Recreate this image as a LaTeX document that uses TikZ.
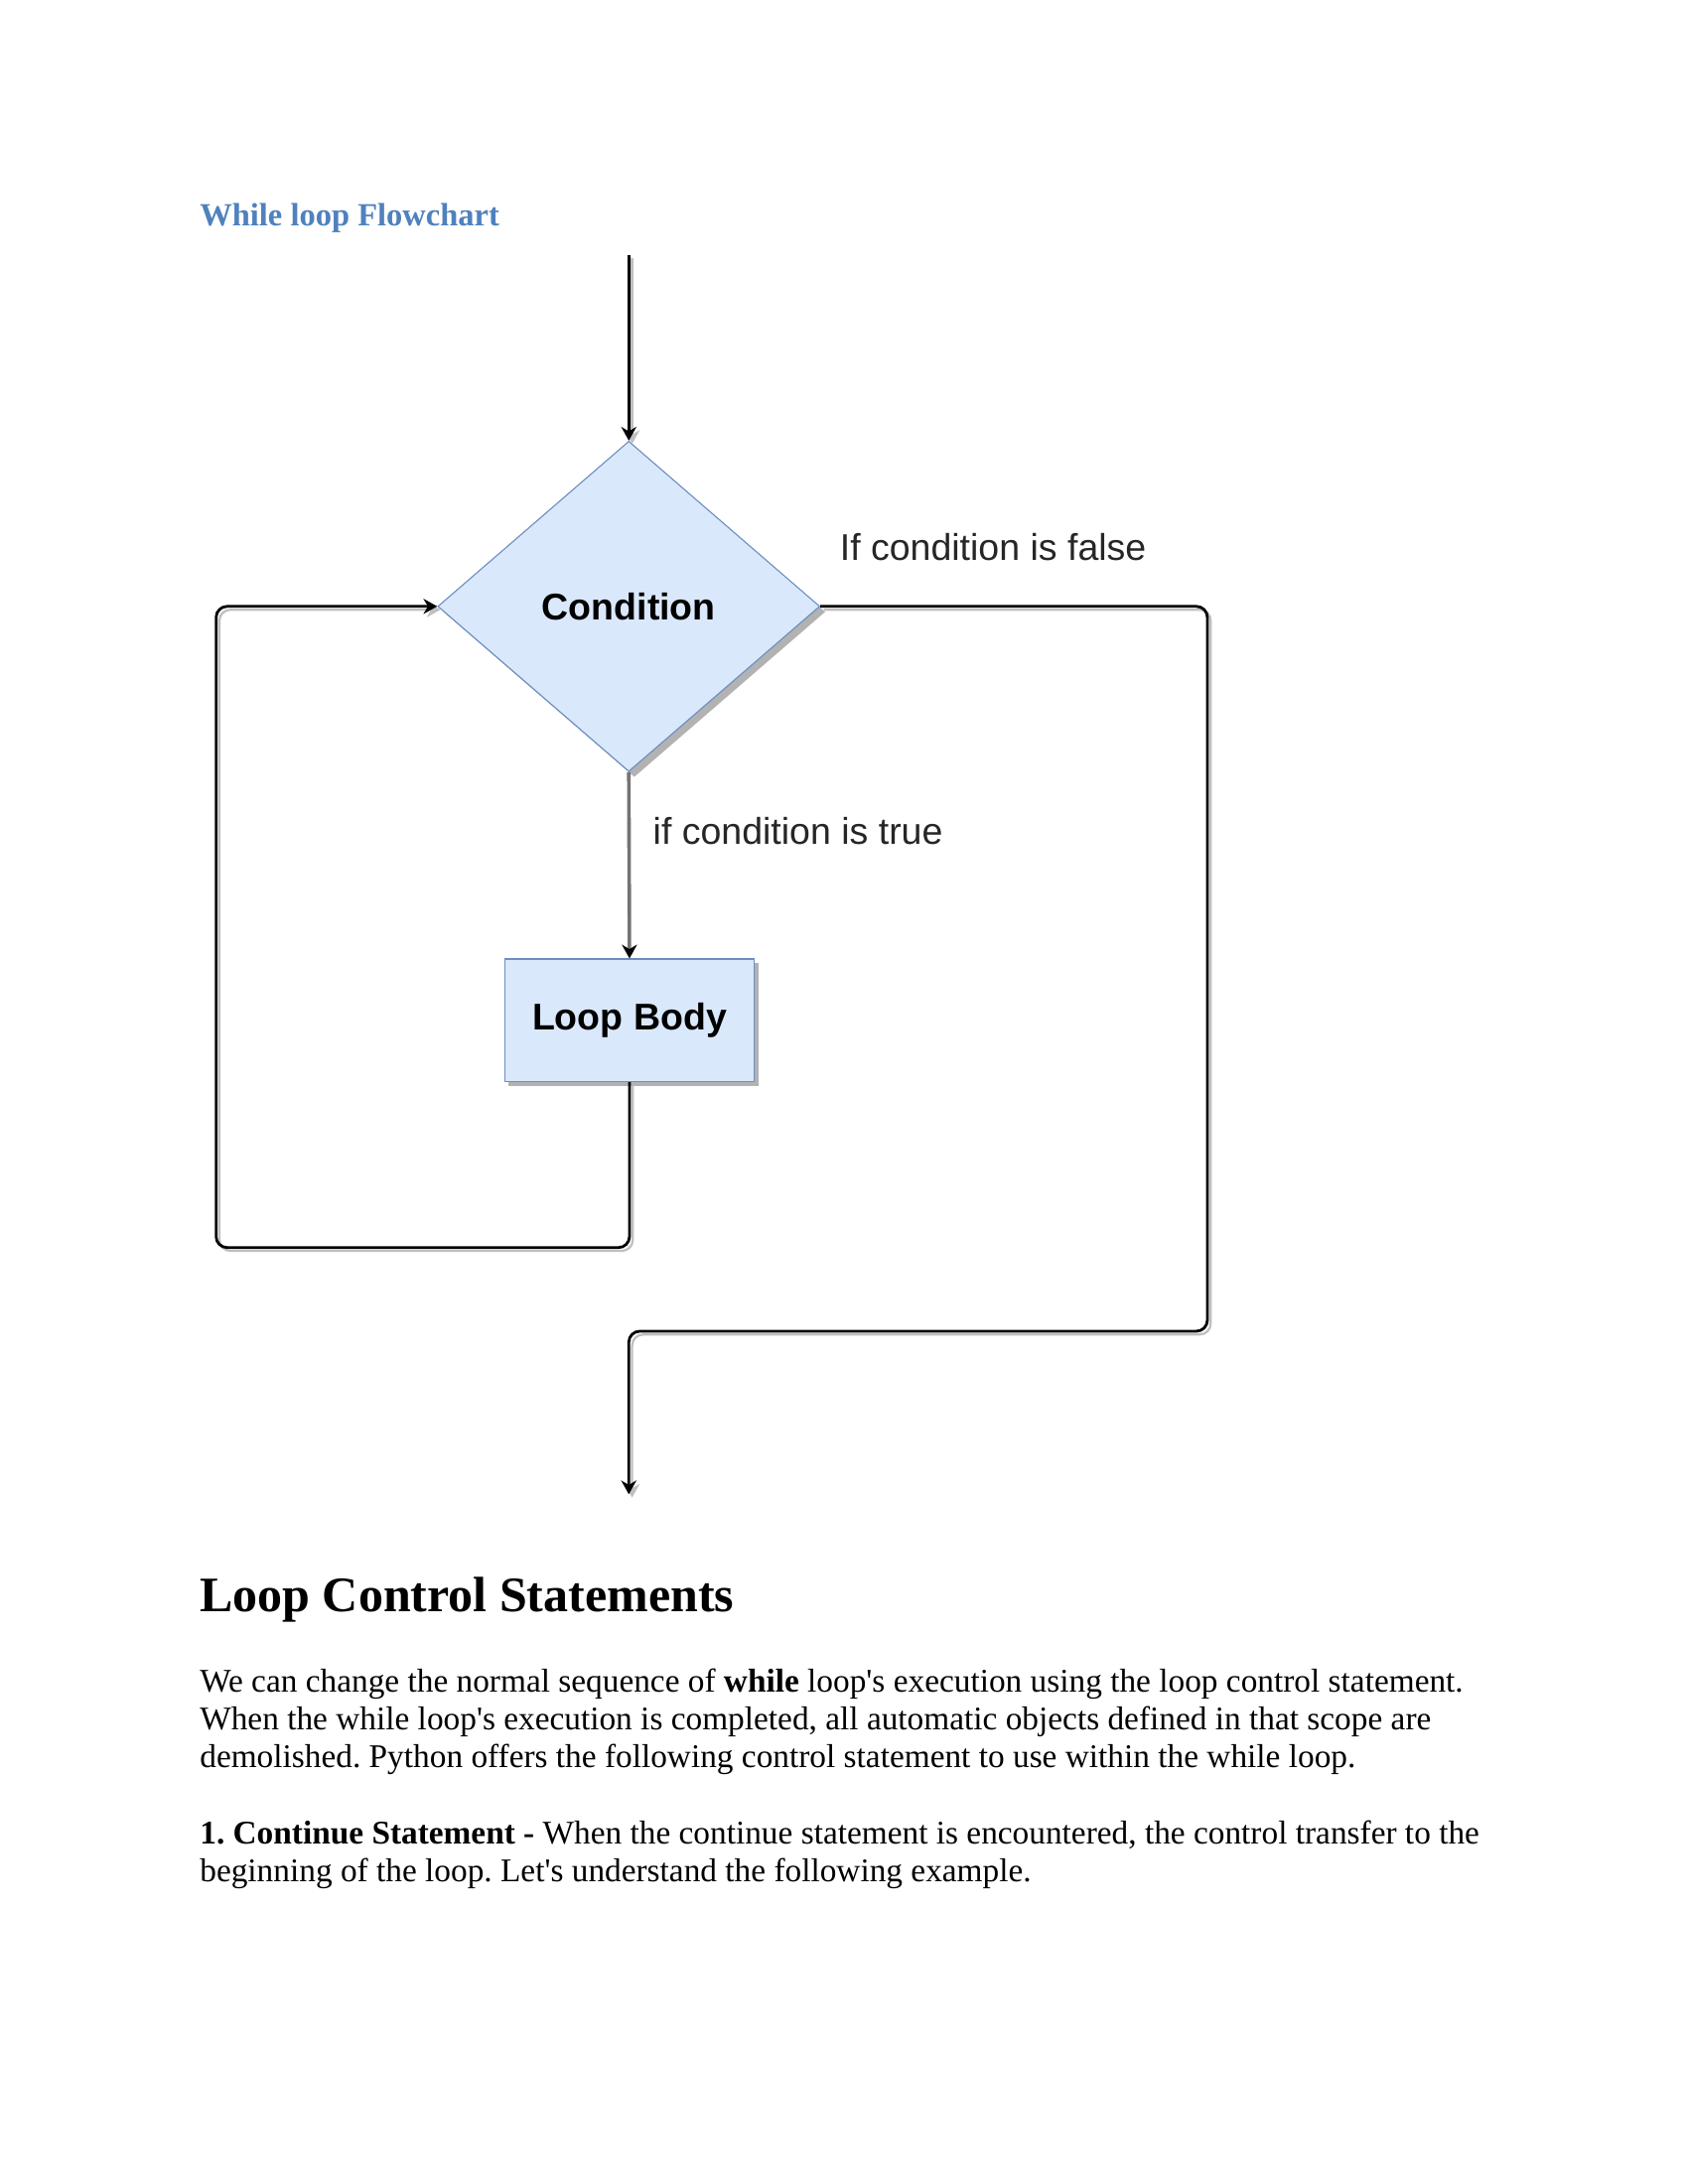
\documentclass[tikz,border=0pt]{standalone}
\usepackage{fontspec}
\setmainfont{Liberation Serif}
\setsansfont{Liberation Sans}
\usetikzlibrary{shapes.geometric,shadows,arrows.meta}

\definecolor{boxfill}{HTML}{DAE8FC}
\definecolor{boxline}{HTML}{6C8EBF}
\definecolor{headblue}{HTML}{4F81BD}

\tikzstyle{decision}=[diamond,draw=boxline,fill=boxfill,minimum width=138.5pt,minimum height=119.8pt,inner sep=0pt,
  drop shadow={shadow xshift=2pt,shadow yshift=-2pt,fill=black!30,opacity=1},font=\sffamily\bfseries\fontsize{13.5}{16}\selectfont]
\tikzstyle{block}=[rectangle,draw=boxline,fill=boxfill,minimum width=90.5pt,minimum height=44.5pt,inner sep=0pt,
  drop shadow={shadow xshift=1.5pt,shadow yshift=-1.5pt,fill=black!30,opacity=1},font=\sffamily\bfseries\fontsize{13.5}{16}\selectfont]
\tikzstyle{line}=[draw,line width=1pt,rounded corners=4pt,->,>={Stealth[length=5pt,width=5.5pt]},
  preaction={draw,black!25,line width=0.8pt,transform canvas={shift={(1.2pt,-1.2pt)}}}]
\tikzstyle{gray line}=[draw,line width=1.3pt,black!55,->,>={Stealth[length=5pt,width=5.5pt,color=black]}]
\tikzstyle{label}=[anchor=base west,inner sep=0pt,font=\sffamily\fontsize{13.5}{16}\selectfont,text=black!85]
\tikzstyle{prose}=[anchor=base west,inner sep=0pt,font=\fontsize{12}{13.8}\selectfont]

\begin{document}
\frenchspacing
\begin{tikzpicture}[x=0.5055pt,y=-0.5055pt]
     \useasboundingbox (0,0) rectangle (1210.7,1566.8);
     % Titles
     \node[anchor=base west,inner sep=0pt,text=headblue,font=\bfseries\fontsize{11.7}{14}\selectfont] (title) at (143,162) {While loop Flowchart};
     \node[anchor=base west,inner sep=0pt,font=\bfseries\fontsize{18}{21}\selectfont] (heading) at (143,1156) {Loop Control Statements};

     % The two shapes of the flowchart
     \node[decision] (cond) at (451,435) {Condition};
     \node[block] (body) at (451.5,732) {Loop Body};

     \coordinate (start) at (451,183);
     \coordinate (exit) at (451,1072);
     \coordinate (rturn) at (866,955);
     \coordinate (lturn) at (155,895);

     % Connect shapes
     \path[line] (start) -- (cond.north);
     \path[gray line] (cond.south) -- (body.north);
     \path[line] (body.south) |- (lturn) |- (cond.west);
     \path[line] (cond.east) -| (rturn) -| (exit);

     % Branch labels
     \node[label] (false) at (602,402) {If condition is false};
     \node[label] (true) at (468,606) {if condition is true};

     % Paragraph lines
     \foreach \y/\name/\txt in {1214/par1/{We can change the normal sequence of \textbf{while} loop\textquotesingle s execution using the loop control statement.},
       1241/par2/{When the while loop\textquotesingle s execution is completed, all automatic objects defined in that scope are},
       1268/par3/{demolished. Python offers the following control statement to use within the while loop.},
       1323/par4/{\textbf{1. Continue Statement -} When the continue statement is encountered, the control transfer to the},
       1350/par5/{beginning of the loop. Let\textquotesingle s understand the following example.}}
     \node[prose] (\name) at (143,\y) {\txt};
\end{tikzpicture}
\end{document}
